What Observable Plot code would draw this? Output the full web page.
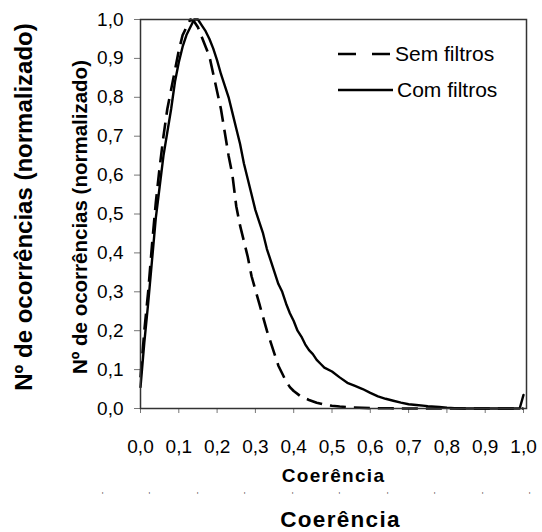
<!DOCTYPE html>
<html><head><meta charset="utf-8">
<script src="https://cdn.jsdelivr.net/npm/d3@7"></script>
<script src="https://cdn.jsdelivr.net/npm/@observablehq/plot@0.6"></script>
<style>
body{margin:0;background:#fff;}
#wrap{position:relative;width:542px;height:532px;font-family:"Liberation Sans",Arial,sans-serif;background:#fff;}
.leg{position:absolute;left:338px;height:24px;display:flex;align-items:center;font-size:21px;color:#000;}
.leg svg{display:block;margin-right:4px;}
</style></head><body><div id="wrap"></div>
<script>
// Sem filtros (dashed)
const semX = [0,0.01,0.02,0.03,0.04,0.05,0.06,0.07,0.08,0.09,0.10,0.11,0.12,0.13,0.14,0.15,0.16,0.17,0.18,0.19,0.20,0.21,0.22,0.23,0.24,0.25,0.26,0.27,0.28,0.29,0.30,0.31,0.32,0.33,0.34,0.35,0.36,0.37,0.38,0.39,0.40,0.42,0.44,0.46,0.48,0.50,0.52,0.55,0.60,0.65,0.70,0.80,0.90,1.00];
const semY = [0.08,0.20,0.30,0.42,0.53,0.62,0.70,0.77,0.82,0.87,0.92,0.96,0.98,1.00,0.995,0.98,0.955,0.93,0.905,0.86,0.815,0.77,0.71,0.65,0.60,0.52,0.47,0.43,0.39,0.34,0.305,0.27,0.235,0.20,0.17,0.14,0.11,0.09,0.07,0.055,0.045,0.03,0.022,0.015,0.01,0.007,0.005,0.003,0.001,0.0005,0,0,0,0];
// Com filtros (solid)
const comX = [0,0.01,0.02,0.03,0.04,0.05,0.06,0.07,0.08,0.09,0.10,0.11,0.12,0.13,0.14,0.15,0.16,0.17,0.18,0.19,0.20,0.21,0.22,0.23,0.24,0.25,0.26,0.27,0.28,0.29,0.30,0.31,0.32,0.33,0.34,0.35,0.36,0.37,0.38,0.39,0.40,0.41,0.42,0.43,0.44,0.45,0.46,0.47,0.48,0.50,0.52,0.54,0.56,0.58,0.60,0.62,0.64,0.66,0.68,0.70,0.72,0.75,0.78,0.80,0.82,0.85,0.90,0.99,1.00];
const comY = [0.055,0.17,0.27,0.38,0.49,0.57,0.65,0.71,0.77,0.84,0.89,0.93,0.96,0.98,1.00,1.00,0.985,0.97,0.95,0.925,0.895,0.86,0.83,0.80,0.76,0.72,0.68,0.63,0.59,0.55,0.51,0.48,0.45,0.41,0.38,0.35,0.32,0.30,0.27,0.245,0.225,0.20,0.185,0.165,0.15,0.14,0.125,0.115,0.105,0.095,0.08,0.066,0.058,0.05,0.04,0.031,0.025,0.02,0.015,0.011,0.009,0.006,0.004,0.002,0.001,0,0,0,0.035];
const ticks = [0,0.1,0.2,0.3,0.4,0.5,0.6,0.7,0.8,0.9,1.0];
const strayMarks = [-0.099,0.023,0.149,0.272,0.397,0.519,0.645,0.768,0.893,1.016];
const yLabel = "Nº de ocorrências (normalizado)";
const xLabel = "Coerência";
const seriesNames = ["Sem filtros","Com filtros"];

const sem = semX.map((x,i)=>({x, y: semY[i]}));
const com = comX.map((x,i)=>({x, y: comY[i]}));
const fmt = d => d.toFixed(1).replace(".", ",");

const chart = Plot.plot({
  width: 542, height: 532,
  marginLeft: 140, marginRight: 16, marginTop: 19, marginBottom: 124,
  style: {fontFamily: '"Liberation Sans", Arial, sans-serif', background: "#fff", color: "#000", overflow: "visible"},
  x: {domain: [0, 1.0078]},
  y: {domain: [0, 1]},
  marks: [
    Plot.axisX({ticks, tickFormat: fmt, tickSize: 5, tickPadding: 26, fontSize: 19, stroke: "#777", label: null}),
    Plot.axisY({ticks, tickFormat: fmt, tickSize: 6, tickPadding: 11, fontSize: 19, stroke: "#777", label: null}),
    Plot.line(sem, {x: "x", y: "y", stroke: "#000", strokeWidth: 2.6, strokeDasharray: "16,8", strokeLinecap: "butt"}),
    Plot.line(com, {x: "x", y: "y", stroke: "#000", strokeWidth: 2.4}),
    Plot.frame({stroke: "#333", strokeWidth: 1.5}),
    Plot.text([yLabel], {frameAnchor: "left", textAnchor: "middle", lineAnchor: "middle", dx: -116, dy: -7, rotate: -90, fontSize: 24, fontWeight: "bold", text: d => d, fill: "#000"}),
    Plot.text([yLabel], {frameAnchor: "left", textAnchor: "middle", lineAnchor: "middle", dx: -60, dy: 3, rotate: -90, fontSize: 20.5, fontWeight: "bold", text: d => d, fill: "#000"}),
    Plot.text([xLabel], {frameAnchor: "bottom", textAnchor: "middle", lineAnchor: "middle", dy: 67, fontSize: 19, fontWeight: "bold", text: d => d, fill: "#000"}),
    Plot.text([xLabel], {frameAnchor: "bottom", textAnchor: "middle", lineAnchor: "middle", dx: 7, dy: 111, fontSize: 22.5, fontWeight: "bold", text: d => d, fill: "#000"}),
    Plot.text(strayMarks, {x: d => d, frameAnchor: "bottom", lineAnchor: "middle", dy: 87, text: () => "'", fontSize: 9, fill: "#666"})
  ]
});
const wrap = document.getElementById("wrap");
wrap.appendChild(chart);
d3.select(chart).selectAll("text").filter(function(){ return this.textContent === xLabel; }).style("letter-spacing", "1.3px");

const legTop = [42, 78];
seriesNames.forEach((name, i) => {
  const div = document.createElement("div");
  div.className = "leg";
  div.style.top = legTop[i] + "px";
  const w = i === 0 ? 53 : 55;
  div.innerHTML = `<svg width="${w}" height="6"><line x1="0" x2="${w}" y1="3" y2="3" stroke="#000" stroke-width="2.6" ${i===0 ? 'stroke-dasharray="18,16"' : ''}/></svg><span>${name}</span>`;
  wrap.appendChild(div);
});
</script>
</body></html>
